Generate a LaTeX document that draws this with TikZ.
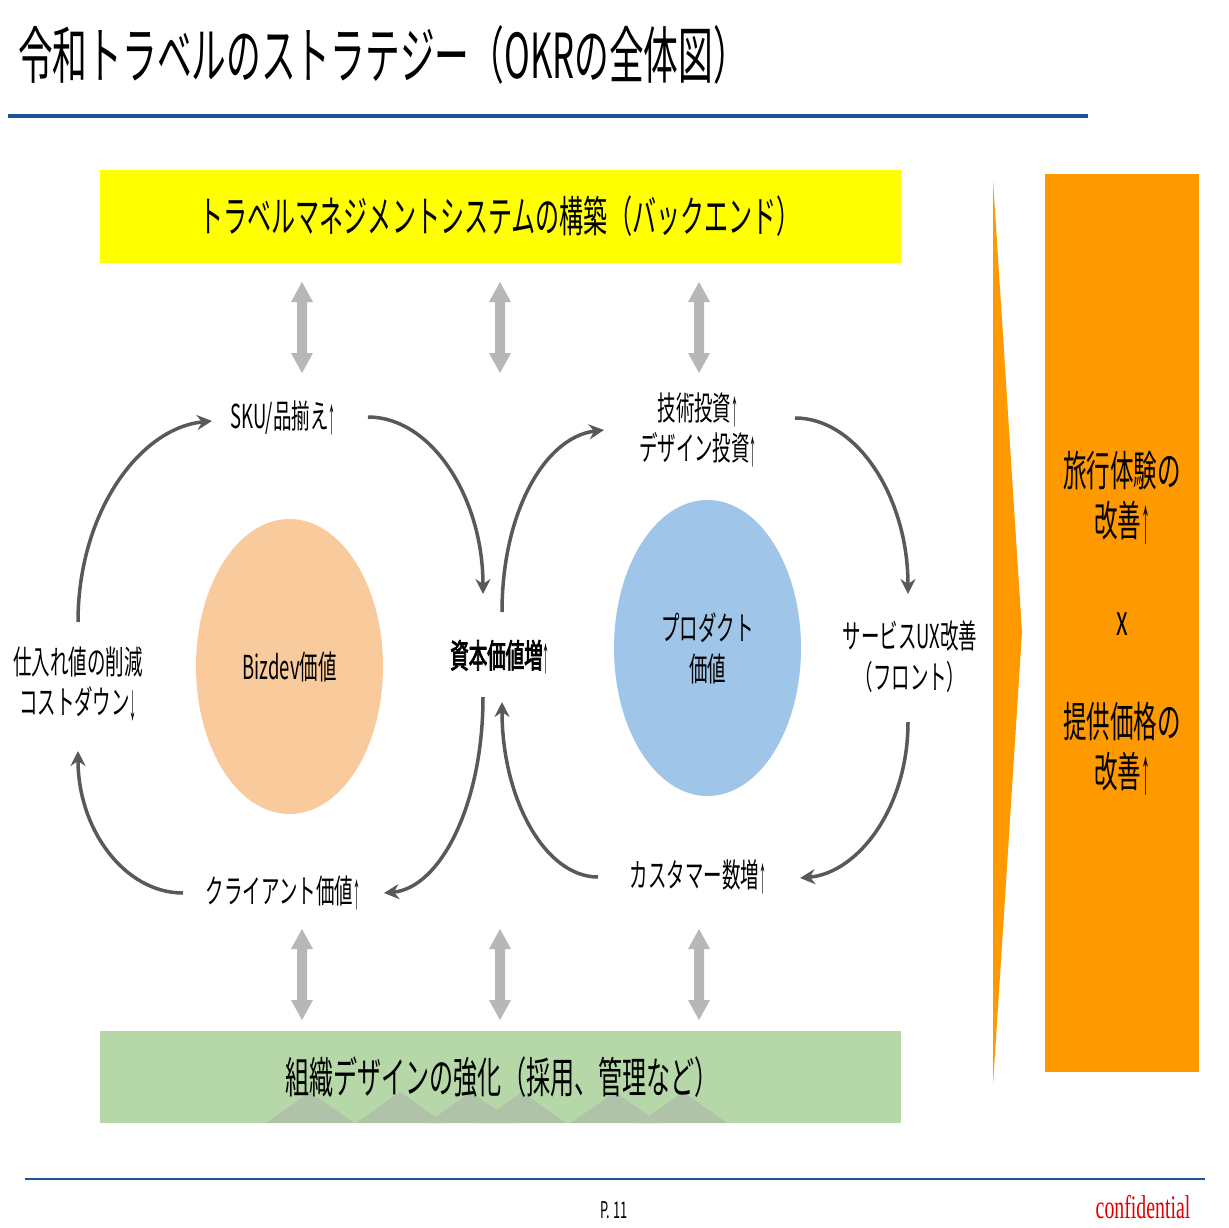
\documentclass[tikz,border=0pt]{standalone}
\usepackage{fontspec}
\usepackage{graphicx}
\newfontfamily\jp[FakeStretch=0.56]{Noto Sans CJK JP}
\newfontfamily\jpb[FakeStretch=0.56,FakeBold=2.5]{Noto Sans CJK JP}
\newfontfamily\arr[FakeStretch=0.5]{Liberation Sans}
\newfontfamily\conf[FakeStretch=0.6]{Liberation Serif}
\newcommand\uarr{\raisebox{-0.14em}{\scalebox{0.85}[1.55]{\arr ↑}}}
\newcommand\darr{\raisebox{-0.14em}{\scalebox{0.85}[1.55]{\arr ↓}}}
\usetikzlibrary{arrows.meta,shapes.geometric}
\definecolor{bluel}{RGB}{26,84,150}
\definecolor{boxyellow}{RGB}{255,255,0}
\definecolor{boxgreen}{RGB}{182,215,168}
\definecolor{boxorange}{RGB}{255,153,0}
\definecolor{peach}{RGB}{249,203,156}
\definecolor{skyb}{RGB}{159,197,232}
\definecolor{lgray}{RGB}{183,183,183}
\definecolor{arrowgray}{RGB}{89,89,89}
\definecolor{hill}{RGB}{176,194,168}
\definecolor{confred}{RGB}{225,0,0}
\begin{document}
\begin{tikzpicture}[x=1pt,y=-1pt,
  lbl/.style={font=\jp\fontsize{33}{40}\selectfont, align=center, inner sep=0pt},
  boxtxt/.style={font=\jp\fontsize{43}{50}\selectfont, inner sep=0pt},
  sidetxt/.style={font=\jp\fontsize{42}{50}\selectfont, align=center, inner sep=0pt},
  carrow/.style={draw=arrowgray, line width=3.5pt, -{Stealth[length=15pt,width=15pt,inset=5pt]}},
  bar/.style={inner sep=0pt, outer sep=0pt, anchor=north west},
  garrow/.pic={\fill[lgray] (0,0) -- (11,20) -- (5,20) -- (5,71) -- (11,71) -- (0,91) -- (-11,71) -- (-5,71) -- (-5,20) -- (-11,20) -- cycle;}
]
\useasboundingbox (0,0) rectangle (1228,1228);
\fill[white] (0,0) rectangle (1228,1228);

% title
\node[anchor=west, font=\jp\fontsize{62}{62}\selectfont, inner sep=0pt] (title) at (18,55) {令和トラベルのストラテジー（OKRの全体図）};
\draw[bluel, line width=4.5pt] (8,116) -- (1088,116);

% top and bottom bars
\node[bar, fill=boxyellow, minimum width=801pt, minimum height=93pt] (top) at (100,170) {};
\node[boxtxt] (toptxt) at (500,216) {トラベルマネジメントシステムの構築（バックエンド）};

\node[bar, fill=boxgreen, minimum width=801pt, minimum height=92pt] (bottom) at (100,1031) {};
\begin{scope}
\clip (100,1031) rectangle (901,1123);
\foreach \hx in {310,400,471,522,615,683}
  \fill[hill] (\hx-44,1123) -- (\hx,1092) -- (\hx+44,1123) -- cycle;
\end{scope}
\node[boxtxt] (bottxt) at (502,1077) {組織デザインの強化（採用、管理など）};

% gray double arrows
\foreach \gx in {302,500,699} {
  \pic at (\gx,282) {garrow};
  \pic at (\gx,929) {garrow};
}

% ellipses
\node[ellipse, fill=peach, minimum width=187pt, minimum height=295pt, inner sep=0pt, font=\jp\fontsize{33}{40}\selectfont] (biz) at (289.5,666.5) {Bizdev価値};
\node[ellipse, fill=skyb, minimum width=187pt, minimum height=296pt, inner sep=0pt, font=\jp\fontsize{33}{41}\selectfont, align=center] (prod) at (707.5,648) {プロダクト\\価値};

% labels
\node[lbl] (sku) at (283,418) {SKU/品揃え\uarr};
\node[lbl] (tech) at (698,430) {技術投資\uarr\\デザイン投資\uarr};
\node[lbl] (cost) at (78,684) {仕入れ値の削減\\コストダウン\darr};
\node[lbl, font=\jpb\fontsize{33}{40}\selectfont] (cap) at (500,657) {資本価値増\uarr};
\node[lbl, font=\jp\fontsize{33}{41}\selectfont] (ux) at (910,657) {サービスUX改善\\（フロント）};
\node[lbl] (client) at (283,893) {クライアント価値\uarr};
\node[lbl] (cust) at (698,877) {カスタマー数増\uarr};

% curved arrows, left cycle
\coordinate (a1s) at (78,622);  \coordinate (a1e) at (212,421);
\coordinate (a2s) at (368,417); \coordinate (a2e) at (483,594);
\coordinate (a3s) at (483,697); \coordinate (a3e) at (384,893);
\coordinate (a4s) at (183,893); \coordinate (a4e) at (78,751);
\draw[carrow] (a1s) .. controls (78,512) and (140,428) .. (a1e);
\draw[carrow] (a2s) .. controls (431,417) and (483,497) .. (a2e);
\draw[carrow] (a3s) .. controls (483,805) and (440,888) .. (a3e);
\draw[carrow] (a4s) .. controls (125,893) and (78,830) .. (a4e);
% right cycle
\coordinate (b1s) at (502,612); \coordinate (b1e) at (604,430);
\coordinate (b2s) at (795,418); \coordinate (b2e) at (908,594);
\coordinate (b3s) at (908,722); \coordinate (b3e) at (800,878);
\coordinate (b4s) at (598,877); \coordinate (b4e) at (502,702);
\draw[carrow] (b1s) .. controls (502,512) and (545,437) .. (b1e);
\draw[carrow] (b2s) .. controls (857,418) and (908,497) .. (b2e);
\draw[carrow] (b3s) .. controls (908,808) and (858,873) .. (b3e);
\draw[carrow] (b4s) .. controls (545,877) and (502,799) .. (b4e);

% right chevron and result box
\fill[boxorange] (993,180) -- (1022,632) -- (993,1085) -- cycle;
\node[bar, fill=boxorange, minimum width=154pt, minimum height=898pt] (result) at (1045,174) {};
\node[sidetxt] (r1) at (1122,498) {旅行体験の\\改善\uarr};
\node[sidetxt] (rx) at (1122,624) {x};
\node[sidetxt] (r2) at (1122,749) {提供価格の\\改善\uarr};

% footer
\draw[bluel, line width=2.5pt] (25,1179) -- (1205,1179);
\node[font=\jp\fontsize{23}{23}\selectfont, inner sep=0pt] (page) at (614,1210) {P. 11};
\node[font=\conf\fontsize{33}{33}\selectfont, text=confred, inner sep=0pt] (conf) at (1143,1207) {confidential};
\end{tikzpicture}
\end{document}
